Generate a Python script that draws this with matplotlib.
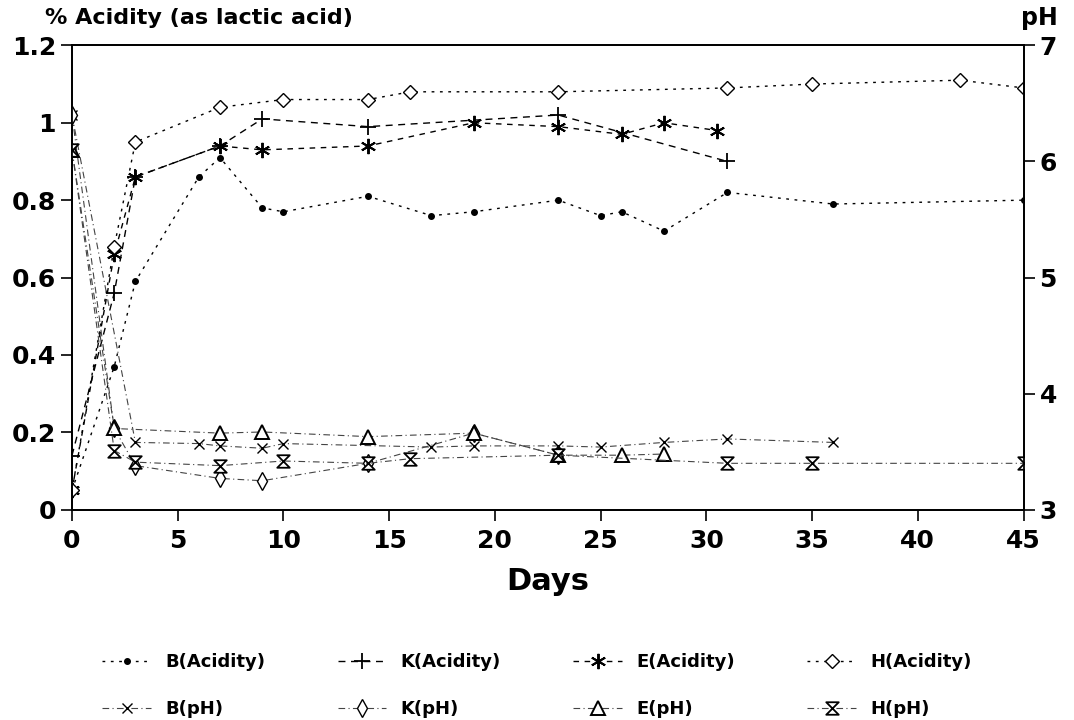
import matplotlib
matplotlib.use("Agg")
import matplotlib.pyplot as plt
from matplotlib.path import Path

plt.rcParams['font.family'] = ['DejaVu Sans']
plt.rcParams['font.weight'] = 'bold'

# Acidity series (% as lactic acid), left axis
days_b_acid = [0, 2, 3, 6, 7, 9, 10, 14, 17, 19, 23, 25, 26, 28, 31, 36, 45]
b_acid = [0.05, 0.37, 0.59, 0.86, 0.91, 0.78, 0.77, 0.81, 0.76, 0.77, 0.80, 0.76, 0.77, 0.72, 0.82, 0.79, 0.80]

days_k_acid = [0, 2, 3, 7, 9, 14, 23, 31]
k_acid = [0.14, 0.56, 0.86, 0.94, 1.01, 0.99, 1.02, 0.90]

days_e_acid = [0, 2, 3, 7, 9, 14, 19, 23, 26, 28, 30.5]
e_acid = [0.05, 0.66, 0.86, 0.94, 0.93, 0.94, 1.00, 0.99, 0.97, 1.00, 0.98]

days_h_acid = [0, 2, 3, 7, 10, 14, 16, 23, 31, 35, 42, 45]
h_acid = [0.05, 0.68, 0.95, 1.04, 1.06, 1.06, 1.08, 1.08, 1.09, 1.10, 1.11, 1.09]

# pH series, right axis
days_b_ph = [0, 3, 6, 7, 9, 10, 17, 19, 23, 25, 28, 31, 36]
b_ph = [6.4, 3.58, 3.57, 3.55, 3.53, 3.57, 3.54, 3.55, 3.55, 3.54, 3.58, 3.61, 3.58]

days_k_ph = [0, 2, 3, 7, 9, 14, 19, 23]
k_ph = [6.4, 3.70, 3.38, 3.27, 3.25, 3.40, 3.66, 3.47]

days_e_ph = [0, 2, 7, 9, 14, 19, 23, 26, 28]
e_ph = [6.1, 3.70, 3.66, 3.67, 3.63, 3.66, 3.47, 3.47, 3.48]

days_h_ph = [0, 2, 3, 7, 10, 14, 16, 23, 31, 35, 45]
h_ph = [6.1, 3.51, 3.41, 3.38, 3.42, 3.40, 3.44, 3.47, 3.40, 3.40, 3.40]

# hourglass marker for H(pH)
hourglass = Path([(-1, 1), (1, 1), (-1, -1), (1, -1), (-1, 1)],
                 [Path.MOVETO, Path.LINETO, Path.LINETO, Path.LINETO, Path.CLOSEPOLY])

fig = plt.figure(figsize=(10.74, 7.2), dpi=100)
ax = fig.add_axes([0.067, 0.292, 0.886, 0.645])
ax2 = ax.twinx()

# acidity lines
h1, = ax.plot(days_b_acid, b_acid, color='black', lw=1, ls=(0, (2, 4)),
              marker='o', ms=4, label='B(Acidity)')
h2, = ax.plot(days_k_acid, k_acid, color='black', lw=1, ls=(0, (5, 4)),
              marker='+', ms=12, mew=1.3, label='K(Acidity)')
h3, = ax.plot(days_e_acid, e_acid, color='black', lw=1, ls=(0, (4, 4)),
              marker=(6, 2, 0), ms=11, mew=1.4, label='E(Acidity)')
h4, = ax.plot(days_h_acid, h_acid, color='black', lw=1, ls=(0, (2, 4)),
              marker='D', ms=7, mfc='white', mew=1, label='H(Acidity)')

# pH lines
h5, = ax2.plot(days_b_ph, b_ph, color='#444444', lw=0.8, ls=(0, (6, 3, 1, 3)),
               marker='x', ms=7, mec='black', mew=1, label='B(pH)')
h6, = ax2.plot(days_k_ph, k_ph, color='#444444', lw=0.8, ls=(0, (6, 3, 1, 3)),
               marker='d', ms=9, mfc='white', mec='black', mew=1, label='K(pH)')
h7, = ax2.plot(days_e_ph, e_ph, color='#444444', lw=0.8, ls=(0, (6, 3, 1, 3)),
               marker='^', ms=10, mfc='white', mec='black', mew=1.4, label='E(pH)')
h8, = ax2.plot(days_h_ph, h_ph, color='#444444', lw=0.8, ls=(0, (6, 3, 1, 3)),
               marker=hourglass, ms=9, mfc='white', mec='black', mew=1.3, label='H(pH)')

ax.set_xlim(0, 45)
ax.set_ylim(0, 1.2)
ax2.set_ylim(3, 7)
ax.set_xticks(range(0, 46, 5))
ax.set_yticks([0, 0.2, 0.4, 0.6, 0.8, 1.0, 1.2])
ax.set_yticklabels(['0', '0.2', '0.4', '0.6', '0.8', '1', '1.2'])
ax2.set_yticks([3, 4, 5, 6, 7])

for a in (ax, ax2):
    a.tick_params(labelsize=18, length=8, width=1.2, direction='out')
    for s in a.spines.values():
        s.set_linewidth(1.3)
ax.tick_params(axis='x', pad=6)

ax.set_xlabel('Days', fontsize=22, fontweight='bold', labelpad=10)
fig.text(0.042, 0.975, '% Acidity (as lactic acid)', fontsize=16, ha='left', va='center')
fig.text(0.985, 0.975, 'pH', fontsize=17, ha='right', va='center')

handles = [h1, h5, h2, h6, h3, h7, h4, h8]
fig.legend(handles=handles, labels=[h.get_label() for h in handles], ncol=4,
           loc='upper center', bbox_to_anchor=(0.5, 0.115), frameon=False,
           fontsize=13, handlelength=2.7, columnspacing=4, labelspacing=1.6,
           handletextpad=0.8)

fig.savefig('out.png', dpi=100)
